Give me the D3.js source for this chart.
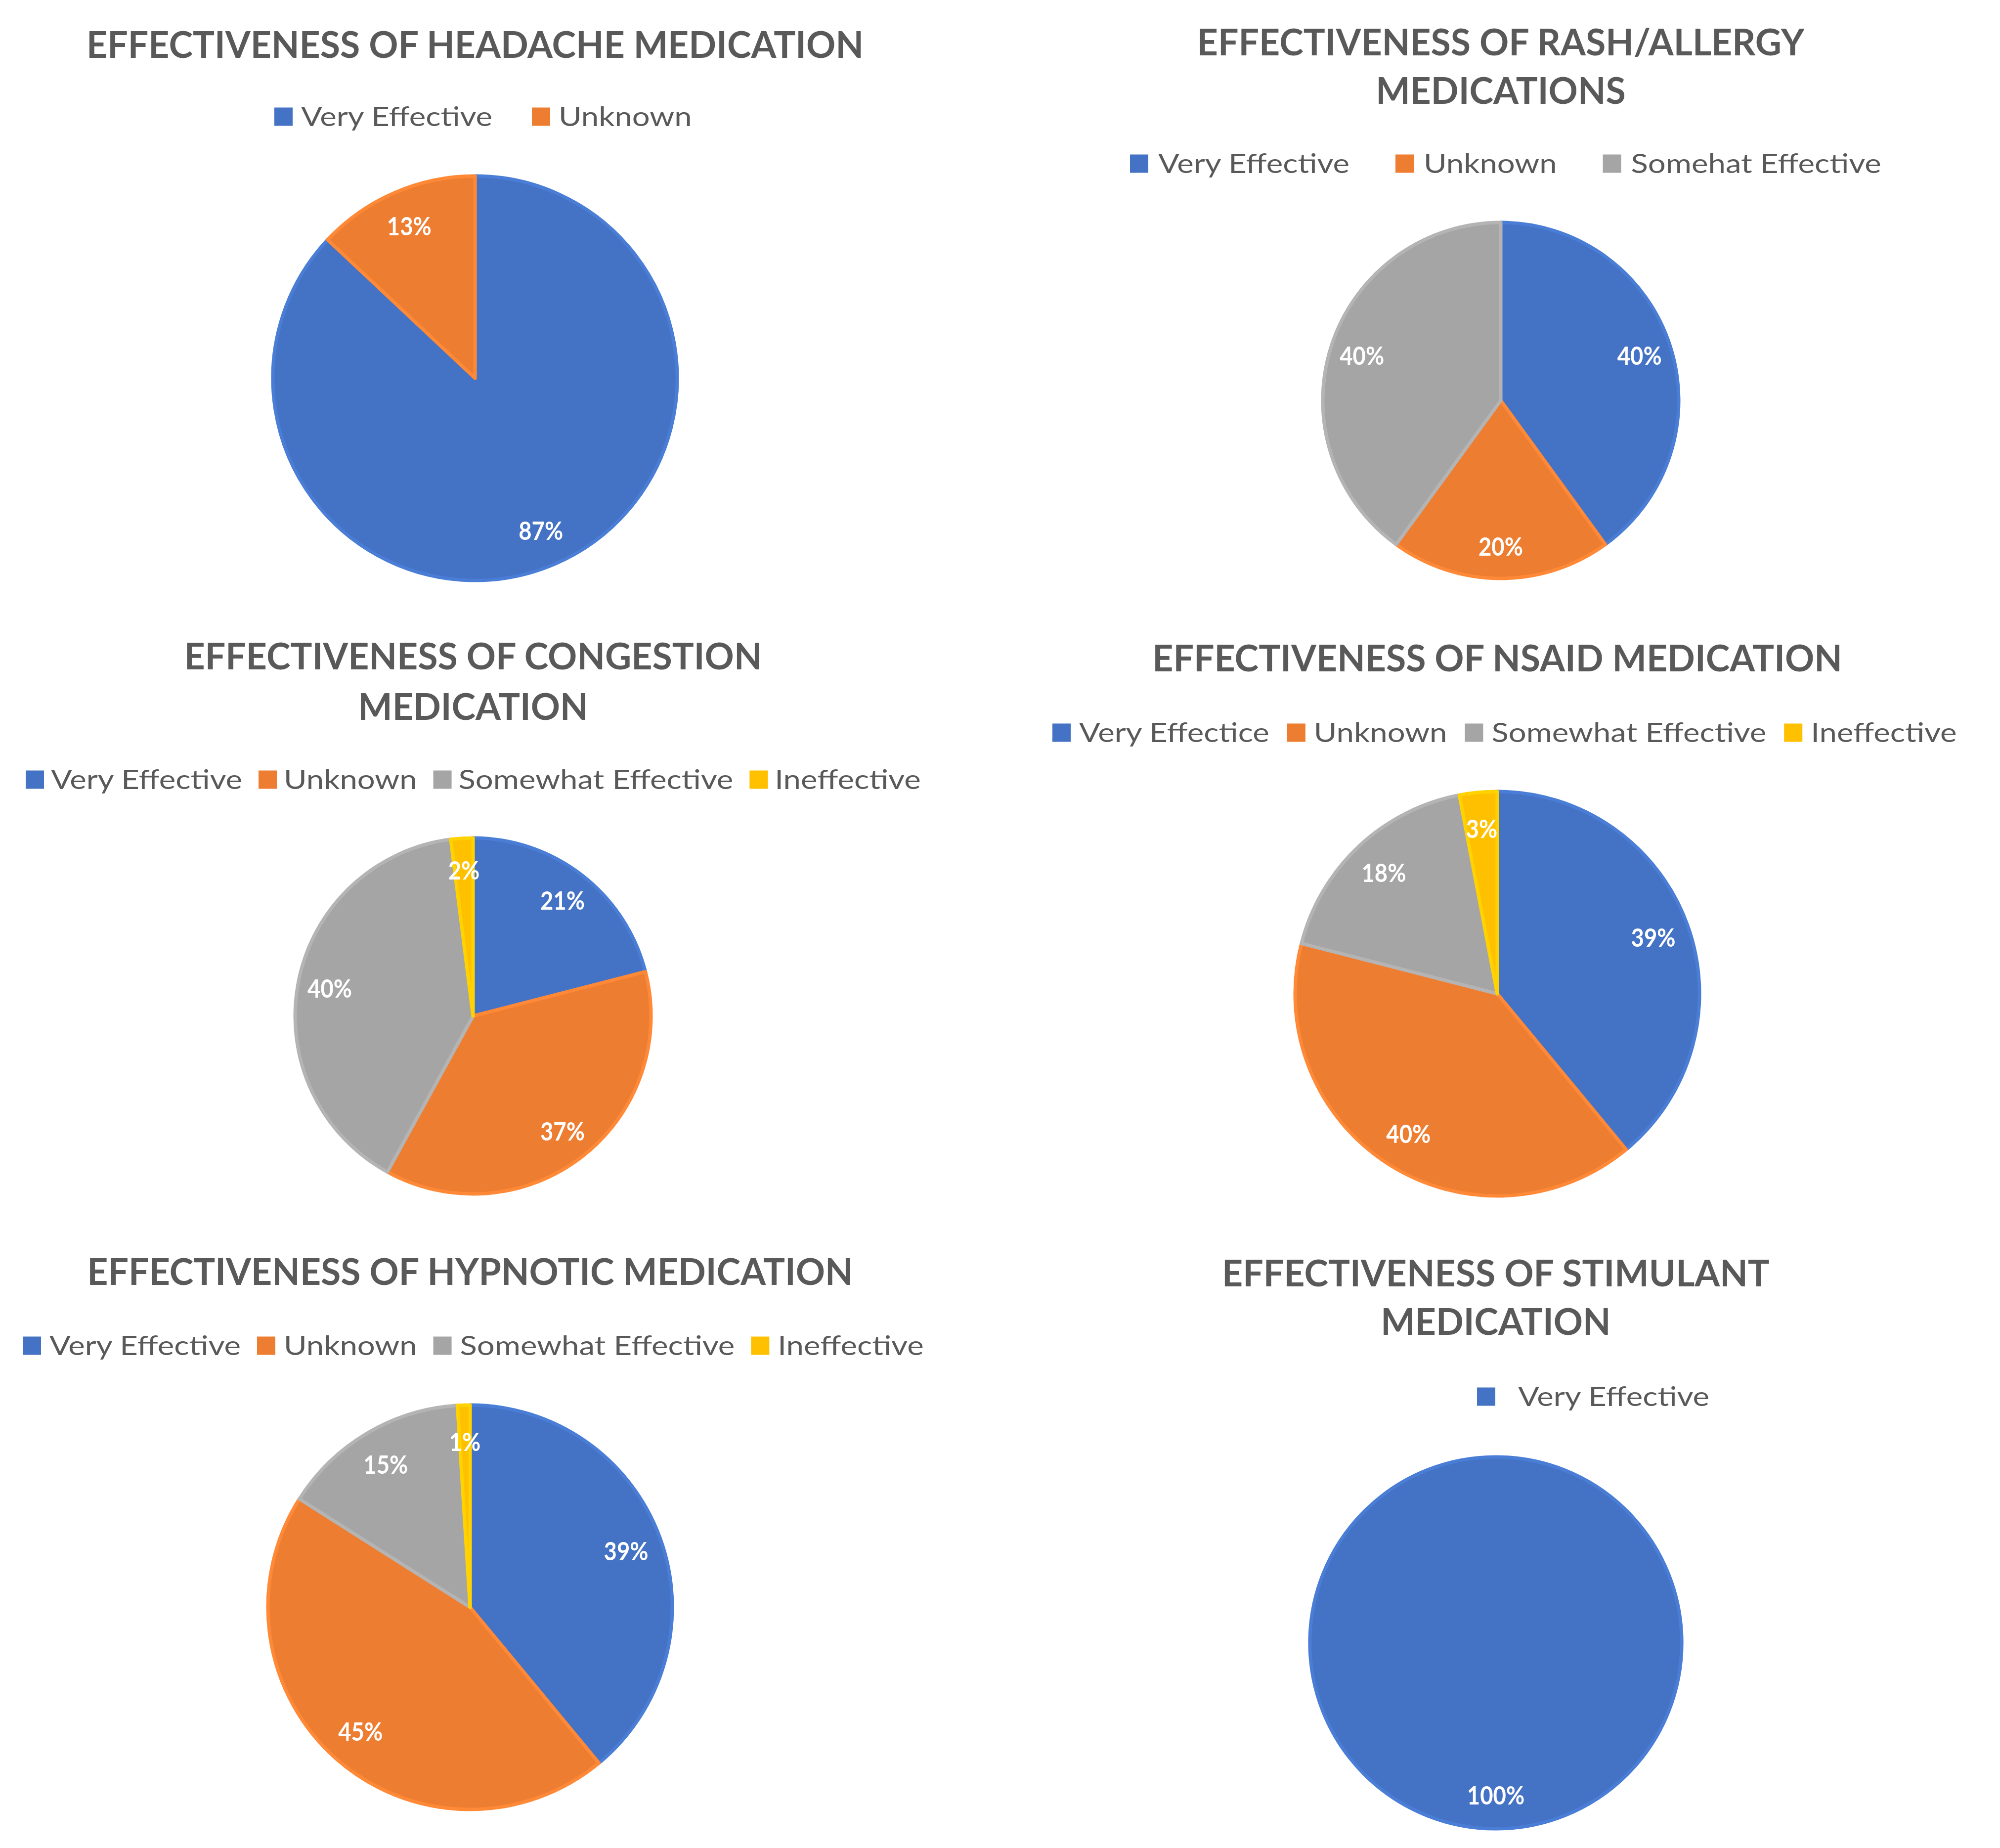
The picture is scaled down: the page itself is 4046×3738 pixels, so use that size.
<!DOCTYPE html>
<html>
<head>
<meta charset="utf-8">
<script src="https://cdn.jsdelivr.net/npm/d3@7"></script>
<style>
  html, body { margin: 0; padding: 0; background: #ffffff; }
  svg { display: block; }
</style>
</head>
<body>
<svg id="chart" width="4046" height="3738"></svg>
<script>
// ---------------- DATA ----------------
const headacheTitle   = ["EFFECTIVENESS OF HEADACHE MEDICATION"];
const headacheLabels  = ["Very Effective", "Unknown"];
const headacheValues  = [87, 13];

const rashTitle       = ["EFFECTIVENESS OF RASH/ALLERGY", "MEDICATIONS"];
const rashLabels      = ["Very Effective", "Unknown", "Somehat Effective"];
const rashValues      = [40, 20, 40];

const congestionTitle  = ["EFFECTIVENESS OF CONGESTION", "MEDICATION"];
const congestionLabels = ["Very Effective", "Unknown", "Somewhat Effective", "Ineffective"];
const congestionValues = [21, 37, 40, 2];

const nsaidTitle      = ["EFFECTIVENESS OF NSAID MEDICATION"];
const nsaidLabels     = ["Very Effectice", "Unknown", "Somewhat Effective", "Ineffective"];
const nsaidValues     = [39, 40, 18, 3];

const hypnoticTitle   = ["EFFECTIVENESS OF HYPNOTIC MEDICATION"];
const hypnoticLabels  = ["Very Effective", "Unknown", "Somewhat Effective", "Ineffective"];
const hypnoticValues  = [39, 45, 15, 1];

const stimulantTitle  = ["EFFECTIVENESS OF STIMULANT", "MEDICATION"];
const stimulantLabels = ["Very Effective"];
const stimulantValues = [100];

// ---------------- STYLE / LAYOUT ----------------
const sliceColors = ["#4472C4", "#ED7D31", "#A5A5A5", "#FFC000"];
const textGray = "#595959";
const FONT = "Lato, 'Open Sans', 'DejaVu Sans', sans-serif";

const charts = [
  { title: headacheTitle, labels: headacheLabels, values: headacheValues,
    cx: 961, cy: 765, r: 409, titleY: [117], legendX: 555, legendY: 236, itemGap: 80, boxGap: 17 },
  { title: rashTitle, labels: rashLabels, values: rashValues,
    cx: 3036, cy: 810, r: 360, titleY: [112, 210], legendX: 2286, legendY: 331, itemGap: 93, boxGap: 20 },
  { title: congestionTitle, labels: congestionLabels, values: congestionValues,
    cx: 957, cy: 2055, r: 360, titleY: [1354, 1456], legendX: 52, legendY: 1577, itemGap: 33, boxGap: 14 },
  { title: nsaidTitle, labels: nsaidLabels, values: nsaidValues,
    cx: 3029, cy: 2010, r: 409, titleY: [1358], legendX: 2129, legendY: 1482, itemGap: 36, boxGap: 17 },
  { title: hypnoticTitle, labels: hypnoticLabels, values: hypnoticValues,
    cx: 951, cy: 3251, r: 409, titleY: [2599], legendX: 46, legendY: 2722, itemGap: 33, boxGap: 17 },
  { title: stimulantTitle, labels: stimulantLabels, values: stimulantValues,
    cx: 3026, cy: 3323, r: 376, titleY: [2602, 2700], legendX: 2988, legendY: 2825, itemGap: 40, boxGap: 46 }
];

const svg = d3.select("#chart");
svg.append("rect").attr("width", 4046).attr("height", 3738).attr("fill", "#ffffff");

// calibration: condense generic fonts to Calibri-like widths
function naturalWidth(text, size, weight) {
  const t = svg.append("text").attr("font-family", FONT).attr("font-size", size)
    .attr("font-weight", weight).text(text);
  const w = t.node().getComputedTextLength();
  t.remove();
  return w;
}
const TITLE_SIZE = 75, LEGEND_SIZE = 54, LABEL_SIZE = 52;
const titleScale  = 1572 / naturalWidth("EFFECTIVENESS OF HEADACHE MEDICATION", TITLE_SIZE, 700);
const legendScale = 387 / naturalWidth("Very Effective", LEGEND_SIZE, 400);
const labelScale  = 90 / naturalWidth("87%", LABEL_SIZE, 700);

const colorScale = d3.scaleOrdinal().domain([0, 1, 2, 3]).range(sliceColors);

charts.forEach(ch => {
  const g = svg.append("g");

  // title
  ch.title.forEach((line, i) => {
    const w = naturalWidth(line, TITLE_SIZE, 700) * titleScale;
    g.append("text")
      .attr("x", ch.cx).attr("y", ch.titleY[i])
      .attr("text-anchor", "middle")
      .attr("font-family", FONT).attr("font-size", TITLE_SIZE).attr("font-weight", 700)
      .attr("fill", textGray)
      .attr("textLength", w).attr("lengthAdjust", "spacingAndGlyphs")
      .text(line);
  });

  // legend
  const box = 37;
  let x = ch.legendX;
  ch.labels.forEach((lab, i) => {
    g.append("rect")
      .attr("x", x).attr("y", ch.legendY - box / 2)
      .attr("width", box).attr("height", box)
      .attr("fill", colorScale(i));
    x += box + ch.boxGap;
    const w = naturalWidth(lab, LEGEND_SIZE, 400) * legendScale;
    g.append("text")
      .attr("x", x).attr("y", ch.legendY + 19)
      .attr("font-family", FONT).attr("font-size", LEGEND_SIZE)
      .attr("fill", textGray)
      .attr("textLength", w).attr("lengthAdjust", "spacingAndGlyphs")
      .text(lab);
    x += w + ch.itemGap;
  });

  // pie
  const pie = d3.pie().sort(null).value(d => d)(ch.values);
  const arc = d3.arc().innerRadius(0).outerRadius(ch.r);
  const labelArc = d3.arc().innerRadius(ch.r * 0.82).outerRadius(ch.r * 0.82);
  const pg = g.append("g").attr("transform", `translate(${ch.cx},${ch.cy})`);

  pg.selectAll("path.slice").data(pie).join("path")
    .attr("class", "slice")
    .attr("d", arc)
    .attr("fill", (d, i) => colorScale(i))
    .attr("stroke", (d, i) => d3.color(colorScale(i)).brighter(0.25).formatHex())
    .attr("stroke-width", 7)
    .attr("stroke-linejoin", "round");

  pg.selectAll("text.lbl").data(pie).join("text")
    .attr("class", "lbl")
    .attr("transform", d => {
      const c = labelArc.centroid(d);
      return `translate(${c[0]},${c[1]})`;
    })
    .attr("text-anchor", "middle")
    .attr("dy", "0.36em")
    .attr("font-family", FONT).attr("font-size", LABEL_SIZE).attr("font-weight", 700)
    .attr("fill", "#ffffff")
    .each(function(d) {
      const txt = d.data + "%";
      const w = naturalWidth(txt, LABEL_SIZE, 700) * labelScale;
      d3.select(this).attr("textLength", w).attr("lengthAdjust", "spacingAndGlyphs").text(txt);
    });
});
</script>
</body>
</html>
